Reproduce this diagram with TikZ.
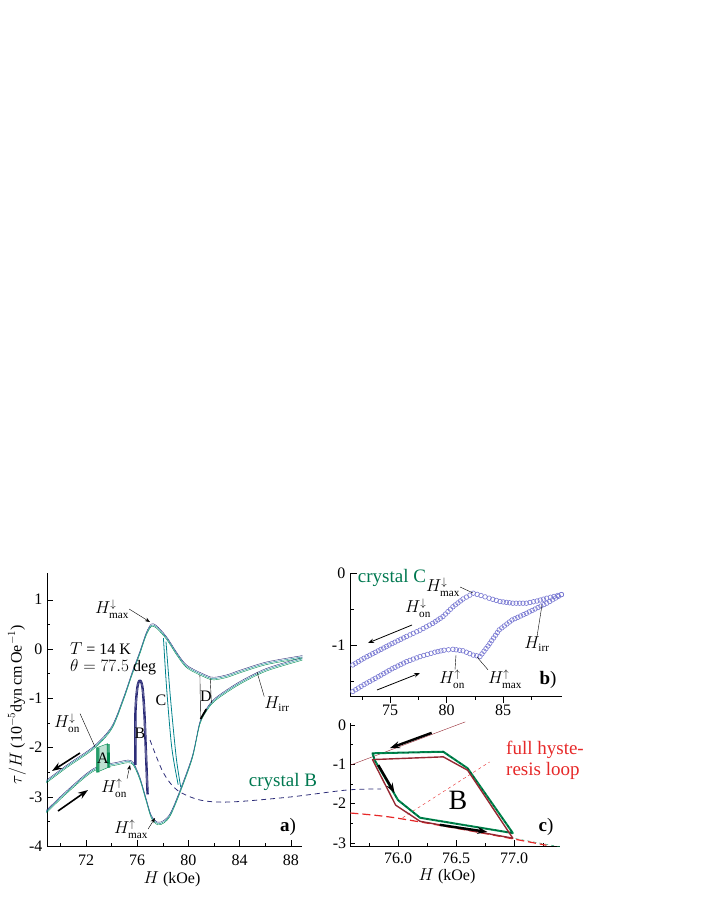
\documentclass[tikz,border=0pt]{standalone}
\usepackage{fontspec}
\setmainfont{Liberation Serif}
\usetikzlibrary{arrows.meta,calc}
\definecolor{navyc}{RGB}{45,45,120}
\definecolor{tealc}{RGB}{0,130,140}
\definecolor{greenc}{RGB}{0,140,80}
\definecolor{crysc}{RGB}{0,120,80}
\definecolor{circc}{RGB}{120,120,210}
\definecolor{brownc}{RGB}{150,40,50}
\definecolor{redc}{RGB}{230,40,40}

\tikzset{
    ticklab/.style={font=\fontsize{16}{18}\selectfont, inner sep=1pt},
    fieldlab/.style={font=\fontsize{16}{18}\selectfont, inner sep=0pt},
    panellab/.style={font=\fontsize{19}{21}\selectfont\bfseries, inner sep=0pt},
    pointer/.style={-{Stealth[length=5pt]}, thin},
    fatarrow/.style={-{Stealth[length=10pt,width=7pt]}, line width=2.4pt},
    axisline/.style={line width=0.8pt},
    opencirc/.style={circc, line width=0.6pt}
}

\begin{document}
\begin{tikzpicture}[x=1pt, y=-1pt]
\useasboundingbox (0,0) rectangle (706,913);

% ---------- panel a ----------
\begin{scope}[shift={(-835.6,649)}, x=12.8pt, y=49.3pt]
    \draw[axisline] (69,1.54) -- (69,-4) -- (88.9,-4);
    \foreach \h in {72,76,...,88}
        \draw (\h,-4) -- ++(0,0.13) node[ticklab, below=7pt] at (\h,-4) {\h};
    \foreach \h in {70,74,...,86}
        \draw (\h,-4) -- ++(0,0.07);
    \foreach \v in {-4,...,1}
        \draw (69,\v) -- ++(0.4,0) node[ticklab, left=4pt] at (69,\v) {\ifnum\v<0 -\the\numexpr-\v\relax\else\v\fi};
    \foreach \v in {-3.5,-2.5,...,0.5}
        \draw (69,\v) -- ++(0.22,0);
    % main branches
    \foreach \c/\d in {navyc/1.3,greenc/-1.3,tealc/0}{
        \draw[\c, yshift=\d pt] plot[smooth] coordinates {(68.9,-2.69) (70.5,-2.38) (72.6,-2.0) (74,-1.6) (74.9,-1.03) (75.6,-0.5) (76.2,-0.08) (76.7,0.3) (77.1,0.48) (77.5,0.45) (78.3,0.22) (79.1,-0.1) (79.9,-0.36) (81.4,-0.56) (82.0,-0.6) (83,-0.55) (84.0,-0.46) (86.1,-0.29) (88.9,-0.16)};
        \draw[\c, yshift=\d pt] plot[smooth] coordinates {(68.9,-3.3) (70.5,-2.9) (72.6,-2.45) (74.5,-2.32) (75.3,-2.28) (75.7,-2.33) (76.2,-2.62) (76.7,-3.06) (77.1,-3.4) (77.6,-3.54) (78.1,-3.5) (78.6,-3.35) (79.3,-2.92) (80.3,-2.2) (80.9,-1.5) (81.5,-1.2) (82.2,-1.0) (84,-0.69) (86.1,-0.42) (88.9,-0.2)};
    }
    % minor loops
    \draw[greenc, fill=greenc!25] (72.85,-2.0) -- (73.7,-1.92) -- (73.75,-2.4) -- (72.85,-2.5) -- cycle;
    \foreach \d in {0,1,2}
        \draw[greenc, thick, xshift=\d pt] (72.85,-2.0) -- (72.85,-2.5) (73.65,-1.93) -- (73.7,-2.41);
    \foreach \d in {0,0.8,1.6}
        \draw[navyc, thick, xshift=\d pt] plot[smooth] coordinates {(75.8,-2.35) (75.8,-1.3) (75.95,-0.78) (76.15,-0.63) (76.35,-0.78) (76.5,-1.3) (76.62,-2.1) (76.75,-2.95)};
    \draw[tealc, thick] plot[smooth] coordinates {(78.05,0.22) (78.3,-0.8) (78.7,-2.0) (79.2,-2.75)};
    \draw[tealc, thick] plot[smooth] coordinates {(78.25,0.15) (78.6,-1.0) (79.05,-2.2) (79.4,-2.8)};
    \draw (80.9,-0.53) -- (80.95,-1.42) (81.7,-0.58) -- (81.8,-1.1);
    \draw[line width=1.8pt] (80.95,-1.42) -- (81.4,-1.22);
\end{scope}

\node[fieldlab, anchor=west] (tlab) at (70,649) {$T$ = 14 K};
\node[fieldlab, anchor=west] (thlab) at (70,667) {$\theta = 77.5$ deg};
\node[fieldlab] (la) at (103,758) {A};
\node[fieldlab] (lb) at (140,733) {B};
\node[fieldlab] (lc) at (161,700) {C};
\node[fieldlab] (ld) at (206,696) {D};
\node[fieldlab] (amaxd) at (112,609) {$H^{\downarrow}_{\mathrm{max}}$};
\node[fieldlab] (aond) at (67,723) {$H^{\downarrow}_{\mathrm{on}}$};
\node[fieldlab] (aonu) at (114,788) {$H^{\uparrow}_{\mathrm{on}}$};
\node[fieldlab] (amaxu) at (131,829) {$H^{\uparrow}_{\mathrm{max}}$};
\node[fieldlab] (airr) at (277,704) {$H_{\mathrm{irr}}$};
\coordinate (pmaxd) at (150,622);
\coordinate (pond) at (95,747);
\coordinate (ponu) at (130,765);
\coordinate (pmaxu) at (155,818);
\coordinate (pirr) at (257,672);
\draw[pointer] (amaxd.east) -- (pmaxd);
\draw (aond.north east) -- (pond);
\draw[pointer] (aonu.north east) -- (ponu);
\draw[pointer] (amaxu.east) -- (pmaxu);
\draw (airr.north west) -- (pirr);
\coordinate (fa1) at (80,753);
\coordinate (fa2) at (52,771);
\coordinate (fa3) at (58,811);
\coordinate (fa4) at (88,790);
\draw[fatarrow, line width=1.6pt] (fa1) -- (fa2);
\draw[fatarrow, line width=1.6pt] (fa3) -- (fa4);
\node[panellab] (pa) at (288,827) {a\textmd{)}};
\node[ticklab] (axa) at (172,879) {$H$ (kOe)};
\node[ticklab, rotate=90] (aya) at (17,705) {$\tau/H$ (10$^{-5}$dyn\,cm\,Oe$^{-1}$)};
\node[font=\fontsize{19}{21}\selectfont, text=crysc] (crb) at (283,782) {crystal B};

% connector a -> c
\coordinate (dashA) at (150,740);
\coordinate (dashC) at (381,789);
\draw[navyc, thick, dash pattern=on 5pt off 4pt] plot[smooth] coordinates {(dashA) (163,772) (177,790) (200,800) (230,802) (290,797) (347,790) (dashC)};

% ---------- panel b ----------
\begin{scope}[shift={(-457.5,573)}, x=11.3pt, y=72pt]
    \draw[axisline] (71.5,0) -- (71.5,-1.72) -- (90.2,-1.72);
    \foreach \h in {75,80,85}
        \draw (\h,-1.72) -- ++(0,-0.08) node[ticklab, below=7pt] at (\h,-1.72) {\h};
    \foreach \h in {72.5,77.5,82.5,87.5}
        \draw (\h,-1.72) -- ++(0,-0.05);
    \draw (71.5,0) -- ++(0.6,0) (71.5,-1) -- ++(0.6,0);
    \draw (71.5,-0.5) -- ++(0.35,0) (71.5,-1.5) -- ++(0.35,0);
    \node[ticklab, left=4pt] at (71.5,0) {0};
    \node[ticklab, left=4pt] at (71.5,-1) {-1};
\end{scope}
% data points (open circles), segment by segment
\foreach \xa/\ya/\xb/\yb in {350/666.6/364/658.2, 364/658.2/378.2/650.8, 378.2/650.8/392/643.6, 392/643.6/406.6/636.4, 406.6/636.4/420/630.2, 420/630.2/432.6/623.4, 432.6/623.4/443/616.5, 443/616.5/452.9/606.8, 452.9/606.8/463/599, 463/599/473.3/593.2, 473.3/593.2/481/595.5, 481/595.5/489.1/598.2, 489.1/598.2/500/601.5, 500/601.5/512.8/603.2, 512.8/603.2/526.4/603.2, 526.4/603.2/537/601, 537/601/546.7/598.2, 546.7/598.2/561.4/594.6,
    350/693.2/364/684.6, 364/684.6/378.2/676.7, 378.2/676.7/392/668.8, 392/668.8/406.6/661.6, 406.6/661.6/420/656.6, 420/656.6/434.8/652.2, 434.8/652.2/444/650.2, 444/650.2/452.9/649.3, 452.9/649.3/463/650.8, 463/650.8/473.3/655.1, 473.3/655.1/480/656.5, 480/656.5/488/646, 488/646/499.2/629.9, 499.2/629.9/512/620, 512/620/526.4/613.3, 526.4/613.3/546.7/603.2, 546.7/603.2/561.4/594.6}{
    \pgfmathsetmacro{\nc}{max(1,int(veclen(\xb-\xa,\yb-\ya)/3.1))}
    \foreach \i in {1,...,\nc}
        \draw[opencirc] ($(\xa,\ya)!\i/\nc!(\xb,\yb)$) circle (2.3pt);
}

\node[font=\fontsize{19}{21}\selectfont, text=crysc] (crc) at (392,578) {crystal C};
\node[fieldlab] (bmaxd) at (443,587) {$H^{\downarrow}_{\mathrm{max}}$};
\node[fieldlab] (bond) at (418,608) {$H^{\downarrow}_{\mathrm{on}}$};
\node[fieldlab] (birr) at (537,644) {$H_{\mathrm{irr}}$};
\node[fieldlab] (bonu) at (452,679) {$H^{\uparrow}_{\mathrm{on}}$};
\node[fieldlab] (bmaxu) at (505,679) {$H^{\uparrow}_{\mathrm{max}}$};
\coordinate (qmaxd) at (473,593);
\coordinate (qirr) at (542,605);
\coordinate (qonu) at (456,655);
\coordinate (qmaxu) at (477,657);
\draw (bmaxd.east) -- (qmaxd);
\draw (birr.north) -- (qirr);
\draw ($(bonu.north)+(3,0)$) -- (qonu);
\draw (bmaxu.north west) -- (qmaxu);
\coordinate (fb1) at (412,625);
\coordinate (fb2) at (368,643);
\coordinate (fb3) at (377,690);
\coordinate (fb4) at (420,673);
\draw[-{Stealth[length=6pt]}, thick] (fb1) -- (fb2);
\draw[-{Stealth[length=6pt]}, thick] (fb3) -- (fb4);
\node[panellab] (pb) at (548,680) {b\textmd{)}};

% ---------- panel c ----------
\begin{scope}[shift={(-8418,725)}, x=116pt, y=39.3pt]
    \draw[axisline] (75.59,0.05) -- (75.59,-3.08) -- (77.4,-3.08);
    \foreach \h in {76.0,76.5,77.0}
        \draw (\h,-3.08) -- ++(0,0.15) node[ticklab, below=6pt] at (\h,-3.08) {\h};
    \foreach \h in {75.75,76.25,76.75,77.25}
        \draw (\h,-3.08) -- ++(0,0.09);
    \foreach \v/\t in {0/0,-1/-1,-2/-2,-3/-3}
        \draw (75.59,\v) -- ++(0.04,0) node[ticklab, left=3pt] at (75.59,\v) {\t};
    \foreach \v in {-0.5,-1.5,-2.5}
        \draw (75.59,\v) -- ++(0.025,0);
    \draw[brownc, thin] (75.59,-1.02) -- (76.58,0.08);
    \draw[redc, thin, dashed] (76.04,-2.36) -- (76.79,-0.94);
    \draw[greenc, thin, dashed] (76.2,-2.45) -- (77.4,-3.1);
    \draw[redc, line width=1.2pt, dash pattern=on 8pt off 4pt] plot[smooth] coordinates {(75.59,-2.24) (75.95,-2.35) (76.6,-2.68) (77.28,-3.06)};
    \draw[greenc, line width=2pt, line join=round] (75.78,-0.72) -- (76.39,-0.68) -- (76.6,-1.1) -- (76.99,-2.75) -- (76.19,-2.36) -- (76.0,-1.91) -- (75.8,-0.9) -- cycle;
    \draw[crysc!70!black, line width=1pt, dash pattern=on 2pt off 3pt] (75.78,-0.72) -- (76.39,-0.68) -- (76.6,-1.1) -- (76.99,-2.75) -- (76.19,-2.36) -- (76.0,-1.91) -- (75.8,-0.9) -- cycle;
    \draw[brownc, line width=1.4pt, line join=round] (75.78,-0.88) -- (76.39,-0.81) -- (76.6,-1.15) -- (76.99,-2.88) -- (76.19,-2.45) -- (75.98,-2.04) -- cycle;
    \draw[fatarrow] (76.29,-0.2) -- (75.93,-0.59);
    \draw[fatarrow] (75.83,-1.02) -- (75.97,-1.73);
    \draw[fatarrow] (76.36,-2.54) -- (76.77,-2.72);
\end{scope}

\node[font=\fontsize{19}{21}\selectfont, text=redc, align=left] (full) at (545,760) {full hyste-\\resis loop};
\node[font=\fontsize{28}{30}\selectfont] (lbig) at (458,800) {B};
\node[panellab] (pc) at (546,827) {c\textmd{)}};
\node[ticklab] (axc) at (447,876) {$H$ (kOe)};
\end{tikzpicture}
\end{document}
